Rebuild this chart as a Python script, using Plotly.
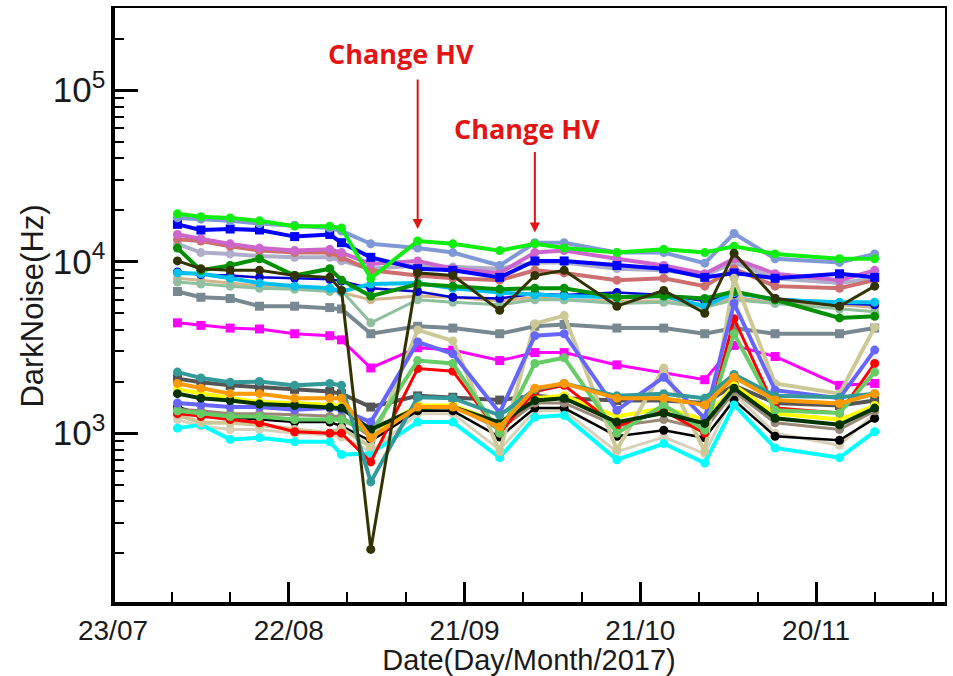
import plotly.graph_objects as go

dates = ["2017-08-03", "2017-08-07", "2017-08-12", "2017-08-17", "2017-08-23",
         "2017-08-29", "2017-08-31", "2017-09-05", "2017-09-13", "2017-09-19",
         "2017-09-27", "2017-10-03", "2017-10-08", "2017-10-17", "2017-10-25",
         "2017-11-01", "2017-11-06", "2017-11-13", "2017-11-24", "2017-11-30"]

x_tick_vals = ["2017-07-23", "2017-08-22", "2017-09-21", "2017-10-21", "2017-11-20"]
x_tick_text = ["23/07", "22/08", "21/09", "21/10", "20/11"]

# dark noise (Hz) per channel
cyan = [1070, 1120, 920, 940, 890, 890, 750, 760, 1160, 1160, 720, 1240, 1270, 700, 870, 670, 1460, 820, 720, 1020]
beige = [1200, 1100, 1050, 1050, 1000, 980, 950, 780, 1300, 1300, 800, 1350, 1350, 780, 950, 760, 1700, 1000, 850, 1300]
black = [1420, 1300, 1240, 1200, 1160, 1160, 1100, 900, 1350, 1350, 950, 1400, 1400, 960, 1040, 940, 1560, 960, 910, 1220]
gbrown = [1380, 1350, 1300, 1300, 1280, 1250, 1250, 950, 1450, 1450, 1050, 1500, 1500, 1100, 1200, 1050, 1750, 1150, 1050, 1350]
khaki = [1280, 1150, 1150, 1120, 1050, 1000, 1070, 830, 4000, 3450, 780, 4350, 4850, 800, 2400, 780, 8000, 1950, 1700, 4150]
red = [1300, 1250, 1200, 1150, 1020, 1000, 1000, 680, 2380, 2300, 1000, 1750, 1900, 1100, 1350, 1000, 4650, 1400, 1310, 2550]
lgreen = [1350, 1300, 1250, 1250, 1200, 1200, 1200, 1000, 2650, 2550, 1000, 2550, 2750, 1000, 1460, 1040, 3800, 1360, 1310, 2270]
sblue = [1500, 1460, 1420, 1420, 1370, 1400, 1370, 1160, 3400, 2900, 1310, 3700, 3800, 1360, 2120, 1220, 5700, 1780, 1600, 3050]
yellow = [1800, 1700, 1600, 1520, 1500, 1460, 1450, 1000, 1450, 1450, 1150, 1600, 1650, 1250, 1400, 1200, 1900, 1300, 1200, 1450]
vdgreen = [1700, 1600, 1550, 1480, 1450, 1420, 1400, 1050, 1400, 1420, 1150, 1550, 1600, 1160, 1310, 1140, 1830, 1220, 1120, 1400]
dgray = [2080, 1980, 1900, 1850, 1800, 1750, 1700, 1420, 1650, 1620, 1560, 1650, 1600, 1550, 1550, 1500, 1900, 1500, 1450, 1550]
teal = [2270, 2100, 1980, 2000, 1900, 1950, 1900, 520, 1620, 1600, 1270, 1800, 1950, 1650, 1700, 1600, 2200, 1650, 1620, 1700]
orange = [1950, 1830, 1700, 1700, 1600, 1600, 1600, 940, 1420, 1420, 1090, 1830, 1950, 1600, 1600, 1460, 2120, 1560, 1490, 1700]
magenta = [4400, 4250, 4100, 4050, 3800, 3700, 3500, 2400, 3150, 3050, 2650, 2950, 2950, 2500, 2250, 2050, 3250, 2800, 1900, 1950]
slate = [6700, 6200, 6100, 5500, 5500, 5400, 5300, 3800, 4200, 4100, 3800, 4200, 4300, 4100, 4100, 3800, 4100, 3800, 3800, 4100]
seagreen = [7600, 7400, 7200, 7000, 6900, 6700, 6800, 4400, 6000, 5800, 5600, 6000, 6000, 5700, 5800, 5400, 6000, 5700, 5300, 5100]
tan = [8000, 7800, 7500, 7200, 7000, 6800, 6600, 6000, 6300, 6200, 5900, 6200, 6000, 5900, 5900, 5600, 6200, 5800, 5600, 5400]
dsky = [8600, 8500, 8000, 7500, 7200, 7000, 6700, 7400, 7500, 7000, 6600, 6400, 6300, 6200, 6300, 5500, 6600, 6000, 5800, 5800]
dblue = [8700, 8400, 8300, 8100, 8000, 7900, 7700, 7000, 6700, 6200, 6100, 6500, 6400, 6600, 6400, 5900, 6500, 6100, 5700, 5600]
silver = [12700, 11300, 11100, 10800, 10600, 10600, 10100, 9100, 9500, 9300, 9100, 9900, 9900, 9100, 8900, 8300, 9900, 8000, 7500, 8000]
rosy = [13500, 13200, 12300, 11600, 11300, 11300, 10600, 8900, 8300, 8000, 7800, 8900, 8600, 7800, 8000, 7200, 9100, 7200, 7000, 7800]
orchid = [14400, 13600, 12700, 12000, 11600, 11800, 11300, 9700, 10100, 9100, 8600, 11300, 11600, 10400, 9500, 8500, 10400, 8500, 7800, 8900]
fgreen = [12000, 8900, 9500, 10400, 8300, 9100, 7800, 6300, 7400, 7200, 6900, 7000, 7000, 6200, 6300, 6100, 6700, 6000, 4700, 4800]
blue = [16500, 15300, 15500, 15300, 14000, 14400, 12900, 10600, 9100, 8900, 8100, 10100, 10100, 9500, 9100, 8100, 8600, 8000, 8500, 8100]
lavender = [18000, 17700, 17300, 16700, 16300, 15700, 15100, 12700, 12000, 11300, 9500, 12900, 12900, 11300, 11300, 9800, 14600, 10400, 9900, 11100]
green = [19000, 18300, 18000, 17300, 16100, 16100, 15700, 8000, 13200, 12700, 11600, 12700, 12000, 11300, 11800, 11300, 12300, 11100, 10400, 10400]
olive = [10100, 9100, 8900, 8900, 8300, 8100, 6800, 210, 8600, 8300, 5200, 8300, 8900, 5500, 6800, 5000, 11200, 6100, 5500, 7200]

series = [
    (tan, "#d2b48c", 3, "circle"),
    (seagreen, "#8fbf9f", 3, "circle"),
    (silver, "#aeaecb", 4, "circle"),
    (rosy, "#cd6f6f", 4, "circle"),
    (dblue, "#0000d0", 2.5, "circle"),
    (dsky, "#00c0f0", 4, "circle"),
    (slate, "#778891", 4, "square"),
    (magenta, "#ff00ff", 3, "square"),
    (orchid, "#cc66cc", 4, "circle"),
    (blue, "#0000ff", 4, "square"),
    (fgreen, "#009000", 4, "circle"),
    (lavender, "#7f98d6", 4, "circle"),
    (green, "#10ee10", 4, "circle"),
    (beige, "#d8d0b8", 3, "circle"),
    (black, "#000000", 2.5, "circle"),
    (gbrown, "#998877", 3, "circle"),
    (cyan, "#00ffff", 4, "circle"),
    (dgray, "#555555", 4, "square"),
    (yellow, "#ffff00", 4, "circle"),
    (khaki, "#cdc996", 4, "circle"),
    (red, "#ff0000", 3, "circle"),
    (lgreen, "#66cc66", 4, "circle"),
    (sblue, "#6666ff", 4, "circle"),
    (vdgreen, "#003300", 4, "circle"),
    (teal, "#339999", 4, "circle"),
    (orange, "#ff9900", 4, "circle"),
    (olive, "#333300", 3, "circle"),
]

fig = go.Figure()
for vals, col, lw, sym in series:
    fig.add_trace(go.Scatter(
        x=dates, y=vals, mode="lines+markers",
        line=dict(color=col, width=lw),
        marker=dict(color=col, size=9, symbol=sym),
        showlegend=False, hoverinfo="skip"))

font_family = "Liberation Sans, Arial, sans-serif"
axis_col = "#1a1a1a"

fig.update_layout(
    width=953, height=676,
    margin=dict(l=113, r=7, t=6, b=71),
    paper_bgcolor="white", plot_bgcolor="white",
    font=dict(family=font_family, color=axis_col),
    xaxis=dict(
        type="date", range=["2017-07-23", "2017-12-12"],
        tickmode="array", tickvals=x_tick_vals, ticktext=x_tick_text,
        ticks="inside", ticklen=22, tickwidth=3, tickcolor="black",
        minor=dict(ticks="inside", ticklen=12, tickwidth=2, tickcolor="black",
                   tickmode="linear", tick0="2017-07-23", dtick=864000000),
        showline=True, linecolor="black", linewidth=2, mirror=True,
        showgrid=False, zeroline=False,
        tickfont=dict(size=28, family=font_family, color=axis_col),
        title=dict(text="Date(Day/Month/2017)", standoff=4,
                   font=dict(size=29, family=font_family, color=axis_col)),
    ),
    yaxis=dict(
        type="log", range=[2.004, 5.479], dtick=1,
        exponentformat="power",
        ticks="inside", ticklen=25, tickwidth=3, tickcolor="black",
        minor=dict(ticks="inside", ticklen=11, tickwidth=2, tickcolor="black", dtick="D1"),
        showline=True, linecolor="black", linewidth=2, mirror=True,
        showgrid=False, zeroline=False,
        tickfont=dict(size=28, family=font_family, color=axis_col),
        title=dict(text="DarkNoise(Hz)", standoff=0,
                   font=dict(size=31, family=font_family, color=axis_col)),
    ),
    shapes=[
        dict(type="line", xref="paper", yref="paper", x0=0, x1=0, y0=0, y1=1,
             line=dict(color="black", width=4)),
        dict(type="line", xref="paper", yref="paper", x0=0, x1=1, y0=0, y1=0,
             line=dict(color="black", width=4)),
    ],
)

red_col = "#e31414"
label_font = dict(family="Open Sans, sans-serif", size=27, color=red_col)
fig.add_annotation(x=0.3465, y=0.923, xref="paper", yref="paper",
                   xanchor="center", yanchor="middle",
                   text="<b>Change HV</b>", showarrow=False, font=label_font)
fig.add_annotation(x=0.4976, y=0.798, xref="paper", yref="paper",
                   xanchor="center", yanchor="middle",
                   text="<b>Change HV</b>", showarrow=False, font=label_font)
fig.add_annotation(x="2017-09-13", y=4.19, xref="x", yref="y", text="",
                   showarrow=True, arrowhead=2, arrowsize=1, arrowwidth=2,
                   arrowcolor=red_col, ax=0, ay=-151)
fig.add_annotation(x="2017-10-03", y=4.17, xref="x", yref="y", text="",
                   showarrow=True, arrowhead=2, arrowsize=1, arrowwidth=2,
                   arrowcolor=red_col, ax=0, ay=-82)

fig.write_html("out.html")
